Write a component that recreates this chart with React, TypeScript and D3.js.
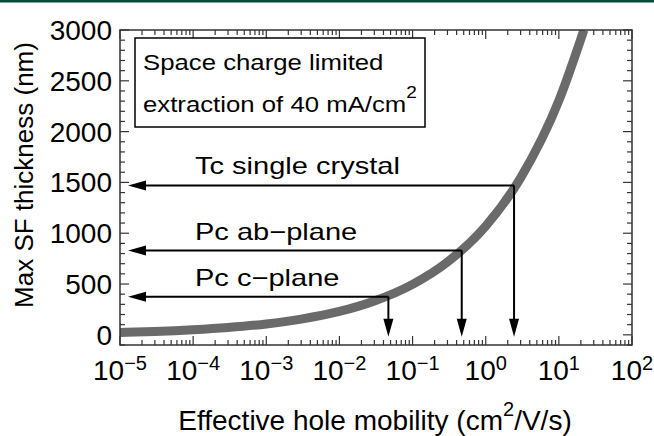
import * as d3 from "d3";

// curve (mobility in cm2/V/s, thickness in nm)
const mobility = [1e-5, 3e-5, 1e-4, 3e-4, 1e-3, 3e-3, 1e-2, 3e-2, 1e-1, 0.3, 1, 3, 10, 22];
const thickness = [23, 33, 50, 72, 107, 155, 230, 333, 497, 717, 1070, 1545, 2305, 3000];

// annotated materials
const arrowLabels = ["Tc single crystal", "Pc ab\u2212plane", "Pc c\u2212plane"];
const arrowMobility = [2.44, 0.47, 0.0467];
const arrowThickness = [1470, 830, 375];

const xExponents = [-5, -4, -3, -2, -1, 0, 1, 2];
const yTicks = [0, 500, 1000, 1500, 2000, 2500, 3000];

const W = 654;
const H = 436;
const margin = { top: 30, right: 22, bottom: 91, left: 120 };
const innerW = W - margin.left - margin.right;
const innerH = H - margin.top - margin.bottom;

const font = "'Liberation Sans', Arial, Helvetica, sans-serif";

export default function App() {
  const x = d3.scaleLog().domain([1e-5, 1e2]).range([0, innerW]);
  const y = d3.scaleLinear().domain([-100, 3000]).range([innerH, 0]);

  const pts = mobility.map((m, i) => [m, thickness[i]] as [number, number]);
  const line = d3
    .line<[number, number]>()
    .x((d) => x(d[0]))
    .y((d) => y(d[1]))
    .curve(d3.curveMonotoneX);

  const minorX: number[] = [];
  xExponents.slice(0, -1).forEach((e) => {
    for (let k = 2; k <= 9; k++) minorX.push(k * Math.pow(10, e));
  });
  const minorY = d3.range(-100, 3001, 100).filter((v) => v % 500 !== 0);

  const axisColor = "#333";
  const major = 9;
  const minor = 5;

  return (
    <svg
      width={W}
      height={H}
      style={{ position: "absolute", left: 0, top: 0, background: "#fff" }}
      fontFamily={font}
    >
      <rect x={0} y={0} width={W} height={2.5} fill="#0b4a3b" />
      <defs>
        <clipPath id="plot">
          <rect x={0} y={0} width={innerW} height={innerH} />
        </clipPath>
      </defs>
      <g transform={`translate(${margin.left},${margin.top})`}>
        {/* ticks, inward, mirrored on all four sides */}
        {xExponents.map((e) => (
          <g key={e} stroke={axisColor} strokeWidth={1.2}>
            <line x1={x(Math.pow(10, e))} x2={x(Math.pow(10, e))} y1={innerH} y2={innerH - major} />
            <line x1={x(Math.pow(10, e))} x2={x(Math.pow(10, e))} y1={0} y2={major} />
          </g>
        ))}
        {minorX.map((v) => (
          <g key={v} stroke={axisColor} strokeWidth={1.2}>
            <line x1={x(v)} x2={x(v)} y1={innerH} y2={innerH - minor} />
            <line x1={x(v)} x2={x(v)} y1={0} y2={minor} />
          </g>
        ))}
        {yTicks.map((v) => (
          <g key={v} stroke={axisColor} strokeWidth={1.2}>
            <line x1={0} x2={major} y1={y(v)} y2={y(v)} />
            <line x1={innerW} x2={innerW - major} y1={y(v)} y2={y(v)} />
          </g>
        ))}
        {minorY.map((v) => (
          <g key={v} stroke={axisColor} strokeWidth={1.2}>
            <line x1={0} x2={minor} y1={y(v)} y2={y(v)} />
            <line x1={innerW} x2={innerW - minor} y1={y(v)} y2={y(v)} />
          </g>
        ))}

        {/* curve */}
        <path
          d={line(pts) || ""}
          fill="none"
          stroke="#6a6a6a"
          strokeWidth={9}
          clipPath="url(#plot)"
        />

        {/* arrows */}
        {arrowLabels.map((lab, i) => {
          const ax = x(arrowMobility[i]);
          const ay = y(arrowThickness[i]);
          const tipX = 8;
          const tipY = y(-20);
          const len = 18;
          const hw = 5;
          return (
            <g key={lab}>
              <line x1={tipX + len - 2} x2={ax} y1={ay} y2={ay} stroke="#000" strokeWidth={2} />
              <line x1={ax} x2={ax} y1={ay} y2={tipY - len + 2} stroke="#000" strokeWidth={2} />
              <path
                d={`M${tipX},${ay} L${tipX + len},${ay - hw} L${tipX + len},${ay + hw} Z`}
                fill="#000"
              />
              <path
                d={`M${ax},${tipY} L${ax - hw},${tipY - len} L${ax + hw},${tipY - len} Z`}
                fill="#000"
              />
              <g transform={`translate(75,${ay - 11}) scale(1.21,1)`}>
                <text fontSize={24} fill="#000">
                  {lab}
                </text>
              </g>
            </g>
          );
        })}

        {/* frame */}
        <rect x={0} y={0} width={innerW} height={innerH} fill="none" stroke={axisColor} strokeWidth={1.5} />

        {/* legend box */}
        <rect x={15} y={8} width={290} height={89} fill="#fff" stroke="#000" strokeWidth={1.5} />
        <g transform="translate(23,0) scale(1.12,1)">
          <text y={40} fontSize={23} fill="#000">
            Space charge limited
          </text>
          <text y={82} fontSize={23} fill="#000">
            extraction of 40 mA/cm
            <tspan fontSize={17} dy={-14}>2</tspan>
          </text>
        </g>

        {/* y tick labels */}
        {yTicks.map((v) => (
          <text
            key={v}
            x={-8}
            y={y(v)}
            dy="0.36em"
            textAnchor="end"
            fontSize={28}
            fill="#000"
          >
            {v}
          </text>
        ))}
        {/* x tick labels */}
        {xExponents.map((e) => (
          <text
            key={e}
            x={x(Math.pow(10, e))}
            y={innerH + 35}
            textAnchor="middle"
            fontSize={28}
            fill="#000"
          >
            10
            <tspan fontSize={20} dy={-10}>
              {e < 0 ? `\u2212${-e}` : `${e}`}
            </tspan>
          </text>
        ))}
      </g>

      {/* axis titles */}
      <text x={375} y={430} textAnchor="middle" fontSize={28} fill="#000">
        Effective hole mobility (cm
        <tspan fontSize={20} dy={-14}>2</tspan>
        <tspan dy={14}>/V/s)</tspan>
      </text>
      <text
        transform={`translate(33,175) rotate(-90)`}
        textAnchor="middle"
        fontSize={26}
        fill="#000"
      >
        Max SF thickness (nm)
      </text>
    </svg>
  );
}
